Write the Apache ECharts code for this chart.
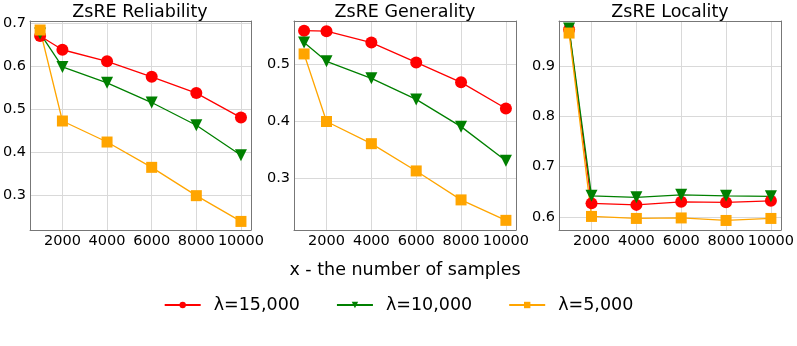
<!DOCTYPE html>
<html>
<head>
<meta charset="utf-8">
<script src="https://cdn.jsdelivr.net/npm/echarts@6/dist/echarts.min.js"></script>
<style>
  html, body { margin: 0; padding: 0; background: #fff; }
  #chart { width: 797px; height: 346px; }
</style>
</head>
<body>
<div id="chart"></div>
<script>
const samples = [1000, 2000, 4000, 6000, 8000, 10000]
const xTicks = [2000, 4000, 6000, 8000, 10000]

// ZsRE Reliability
const relHigh = [0.670, 0.638, 0.611, 0.575, 0.537, 0.480]
const relMid = [0.676, 0.598, 0.561, 0.515, 0.462, 0.392]
const relLow = [0.684, 0.472, 0.423, 0.364, 0.298, 0.238]
const relTicks = [0.3, 0.4, 0.5, 0.6, 0.7]

// ZsRE Generality
const genHigh = [0.560, 0.559, 0.539, 0.504, 0.469, 0.423]
const genMid = [0.539, 0.506, 0.476, 0.439, 0.391, 0.331]
const genLow = [0.519, 0.400, 0.361, 0.313, 0.262, 0.226]
const genTicks = [0.3, 0.4, 0.5]

// ZsRE Locality
const locHigh = [0.973, 0.627, 0.624, 0.630, 0.629, 0.632]
const locMid = [0.975, 0.642, 0.639, 0.644, 0.642, 0.641]
const locLow = [0.966, 0.601, 0.597, 0.598, 0.593, 0.597]
const locTicks = [0.6, 0.7, 0.8, 0.9]

const names = ['λ=15,000', 'λ=10,000', 'λ=5,000']
const colors = ['#ff0000', '#008000', '#ffa500']
const symbols = ['circle', 'triangle', 'rect']
const symbolSizes = [12, 12, 11]
const symbolRotates = [0, 180, 0]

const font = 'DejaVu Sans'
const panels = [
  { title: 'ZsRE Reliability', left: 29, ticks: relTicks, min: 0.218, max: 0.705, data: [relHigh, relMid, relLow] },
  { title: 'ZsRE Generality', left: 294, ticks: genTicks, min: 0.209, max: 0.577, data: [genHigh, genMid, genLow] },
  { title: 'ZsRE Locality', left: 559, ticks: locTicks, min: 0.574, max: 0.990, data: [locHigh, locMid, locLow] }
]
const plotWidth = 222
const plotTop = 21
const plotHeight = 209

const chart = echarts.init(document.getElementById('chart'), null, { renderer: 'canvas' })

const grid = []
const xAxis = []
const yAxis = []
const series = []
const title = []
panels.forEach((p, i) => {
  grid.push({ left: p.left, top: plotTop, width: plotWidth, height: plotHeight, containLabel: false })
  title.push({
    text: p.title,
    left: p.left + plotWidth / 2,
    top: 3,
    padding: 0,
    textAlign: 'center',
    textStyle: { fontFamily: font, fontWeight: 'normal', fontSize: 17.5, color: '#000' }
  })
  xAxis.push({
    type: 'value',
    gridIndex: i,
    min: 550,
    max: 10450,
    axisLine: { show: true, onZero: false, lineStyle: { color: '#777', width: 1 } },
    axisTick: { show: false, customValues: xTicks },
    axisLabel: {
      customValues: xTicks,
      formatter: v => String(v),
      hideOverlap: false,
      showMaxLabel: true,
      color: '#000', fontFamily: font, fontSize: 14.5, margin: 4
    },
    splitLine: { show: true, lineStyle: { color: '#d9d9d9', width: 1 } }
  })
  yAxis.push({
    type: 'value',
    gridIndex: i,
    min: p.min,
    max: p.max,
    axisLine: { show: true, lineStyle: { color: '#777', width: 1 } },
    axisTick: { show: false, customValues: p.ticks },
    axisLabel: { customValues: p.ticks, formatter: v => v.toFixed(1), color: '#000', fontFamily: font, fontSize: 14.5, margin: 4 },
    splitLine: { show: true, lineStyle: { color: '#d9d9d9', width: 1 } }
  })
  // top and right frame
  xAxis.push({
    type: 'value', gridIndex: i, position: 'top', min: 550, max: 10450,
    axisLine: { show: true, onZero: false, lineStyle: { color: '#777', width: 1 } },
    axisTick: { show: false }, axisLabel: { show: false }, splitLine: { show: false }
  })
  yAxis.push({
    type: 'value', gridIndex: i, position: 'right', min: p.min, max: p.max,
    axisLine: { show: true, onZero: false, lineStyle: { color: '#777', width: 1 } },
    axisTick: { show: false }, axisLabel: { show: false }, splitLine: { show: false }
  })
  p.data.forEach((vals, k) => {
    series.push({
      name: names[k],
      type: 'line',
      xAxisIndex: i * 2,
      yAxisIndex: i * 2,
      data: samples.map((x, j) => [x, vals[j]]),
      symbol: symbols[k],
      symbolSize: symbolSizes[k],
      symbolRotate: symbolRotates[k],
      showAllSymbol: true,
      color: colors[k],
      itemStyle: { color: colors[k], opacity: 1 },
      lineStyle: { color: colors[k], width: 1.3 },
      animation: false
    })
  })
})

title.push({
  text: 'x - the number of samples',
  left: 405,
  top: 261,
  padding: 0,
  textAlign: 'center',
  textStyle: { fontFamily: font, fontWeight: 'normal', fontSize: 17.5, color: '#000' }
})

chart.setOption({
  animation: false,
  title: title,
  grid: grid,
  xAxis: xAxis,
  yAxis: yAxis,
  legend: {
    data: names,
    top: 291,
    left: 'center',
    itemWidth: 36,
    itemHeight: 8,
    itemGap: 36,
    textStyle: { fontFamily: font, fontSize: 17.5, color: '#000', padding: [0, 0, 0, 8] }
  },
  series: series
})
</script>
</body>
</html>
